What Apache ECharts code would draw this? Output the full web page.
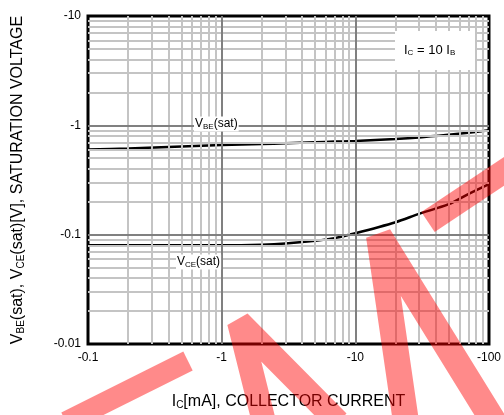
<!DOCTYPE html>
<html>
<head>
<meta charset="utf-8">
<script src="https://cdn.jsdelivr.net/npm/echarts@6/dist/echarts.min.js"></script>
<style>html,body{margin:0;padding:0;background:#fff}#c{width:504px;height:415px}</style>
</head>
<body>
<div id="c"></div>
<script>
// ---- data ----
var collectorCurrent = [0.1, 0.2, 0.5, 1, 2, 3, 5, 7, 10, 20, 30, 50, 70, 100];     // |Ic| mA
var vbeSat = [0.60, 0.615, 0.64, 0.66, 0.675, 0.685, 0.70, 0.71, 0.72, 0.75, 0.775, 0.82, 0.855, 0.90]; // |V|
var vceSat = [0.080, 0.080, 0.080, 0.080, 0.081, 0.083, 0.088, 0.093, 0.103, 0.13, 0.155, 0.19, 0.235, 0.29]; // |V|
var xDecades = [0.1, 1, 10];
var yDecades = [0.01, 0.1, 1];
var minorMultiples = [2, 3, 4, 5, 6, 7, 8, 9];
var xTickLabels = ['-0.1', '-1', '-10', '-100'];
var yTickLabels = ['-0.01', '-0.1', '-1', '-10'];

function pairs(xs, ys) { return xs.map(function (x, i) { return [x, ys[i]]; }); }
function minors(decades) {
  var out = [];
  decades.forEach(function (d) { minorMultiples.forEach(function (m) { out.push(+(d * m).toPrecision(3)); }); });
  return out;
}
function fmt(labels, base) {
  return function (v) {
    var i = Math.round(Math.log10(v) - Math.log10(base));
    return labels[i] !== undefined ? labels[i] : '';
  };
}

var chart = echarts.init(document.getElementById('c'), null, { renderer: 'canvas' });
var FONT = 'Liberation Sans, Arial, sans-serif';
var wm = 'rgba(255,0,0,0.46)';

chart.setOption({
  animation: false,
  backgroundColor: '#fff',
  grid: { left: 88, top: 16, right: 12, bottom: 70, show: true, borderColor: '#000', borderWidth: 3, backgroundColor: 'transparent', z: 5 },
  xAxis: {
    type: 'log', logBase: 10, min: 0.1, max: 100, interval: 1,
    axisLine: { show: false }, axisTick: { show: false },
    splitLine: { show: true, lineStyle: { color: '#808080', width: 2 } },
    axisLabel: { formatter: fmt(xTickLabels, 0.1), color: '#000', fontFamily: FONT, fontSize: 12, margin: 8 },
    name: '{m|I}{s|C}{m|[mA], COLLECTOR CURRENT}', nameLocation: 'middle', nameGap: 50,
    nameTextStyle: { rich: {
      m: { fontFamily: FONT, fontSize: 16, color: '#000' },
      s: { fontFamily: FONT, fontSize: 10, color: '#000', verticalAlign: 'bottom', padding: [6, 0, 0, 0] }
    } }
  },
  yAxis: {
    type: 'log', logBase: 10, min: 0.01, max: 10, interval: 1,
    axisLine: { show: false }, axisTick: { show: false },
    splitLine: { show: true, lineStyle: { color: '#808080', width: 2 } },
    axisLabel: { formatter: fmt(yTickLabels, 0.01), color: '#000', fontFamily: FONT, fontSize: 12, margin: 7 },
    name: '{m|V}{s|BE}{m|(sat), V}{s|CE}{m|(sat)[V], SATURATION VOLTAGE}', nameLocation: 'middle', nameGap: 62,
    nameTextStyle: { rich: {
      m: { fontFamily: FONT, fontSize: 16, color: '#000' },
      s: { fontFamily: FONT, fontSize: 10, color: '#000', verticalAlign: 'bottom', padding: [6, 0, 0, 0] }
    } }
  },
  series: [
    {
      type: 'line', data: [], z: 1, silent: true,
      markLine: {
        silent: true, symbol: ['none', 'none'], label: { show: false }, animation: false,
        lineStyle: { color: '#c4c4c4', width: 2, type: 'solid' },
        data: minors(xDecades).map(function (v) { return { xAxis: v }; })
          .concat(minors(yDecades).map(function (v) { return { yAxis: v }; }))
      }
    },
    {
      type: 'line', data: [], z: 2, silent: true,
      markLine: {
        silent: true, symbol: ['none', 'none'], label: { show: false }, animation: false,
        lineStyle: { color: '#808080', width: 2, type: 'solid' },
        data: xDecades.slice(1).map(function (v) { return { xAxis: v }; })
          .concat(yDecades.slice(1).map(function (v) { return { yAxis: v }; }))
      }
    },
    {
      name: 'VBE(sat)', type: 'line', data: pairs(collectorCurrent, vbeSat), z: 4,
      showSymbol: false, smooth: 0.3, lineStyle: { color: '#000', width: 2.5 }
    },
    {
      name: 'VCE(sat)', type: 'line', data: pairs(collectorCurrent, vceSat), z: 4,
      showSymbol: false, smooth: 0.3, lineStyle: { color: '#000', width: 2.5 }
    }
  ],
  graphic: [
    { type: 'rect', shape: { x: 395, y: 31, width: 80, height: 39 }, style: { fill: '#fff' }, z: 20 },
    { type: 'text', x: 404, y: 50, z: 21, style: {
      text: '{m|I}{s|C}{m| = 10 I}{s|B}', verticalAlign: 'middle',
      rich: { m: { fontFamily: FONT, fontSize: 13, fill: '#000' }, s: { fontFamily: FONT, fontSize: 8, fill: '#000', padding: [5, 0, 0, 0] } }
    } },
    { type: 'text', x: 194, y: 124, z: 21, style: {
      text: '{m|V}{s|BE}{m|(sat)}', verticalAlign: 'middle', backgroundColor: '#fff', padding: [1, 1, 1, 1],
      rich: { m: { fontFamily: FONT, fontSize: 12, fill: '#000' }, s: { fontFamily: FONT, fontSize: 8, fill: '#000', padding: [5, 0, 0, 0] } }
    } },
    { type: 'text', x: 176, y: 262, z: 21, style: {
      text: '{m|V}{s|CE}{m|(sat)}', verticalAlign: 'middle', backgroundColor: '#fff', padding: [1, 1, 1, 1],
      rich: { m: { fontFamily: FONT, fontSize: 12, fill: '#000' }, s: { fontFamily: FONT, fontSize: 8, fill: '#000', padding: [5, 0, 0, 0] } }
    } },
    // watermark strokes
    { type: 'polyline', z: 100, silent: true, shape: { points: [[66, 422], [188, 361]] }, style: { stroke: wm, lineWidth: 21, lineCap: 'butt', fill: null } },
    { type: 'polyline', z: 100, silent: true, shape: { points: [[264, 422], [239, 322], [338, 422]] }, style: { stroke: wm, lineWidth: 24, lineCap: 'butt', lineJoin: 'bevel', fill: null } },
    { type: 'polyline', z: 100, silent: true, shape: { points: [[406, 422], [379, 236], [494, 422]] }, style: { stroke: wm, lineWidth: 26, lineCap: 'butt', lineJoin: 'bevel', fill: null } },
    { type: 'polyline', z: 100, silent: true, shape: { points: [[428, 222], [512, 166]] }, style: { stroke: wm, lineWidth: 24, lineCap: 'butt', fill: null } }
  ]
});
</script>
</body>
</html>
